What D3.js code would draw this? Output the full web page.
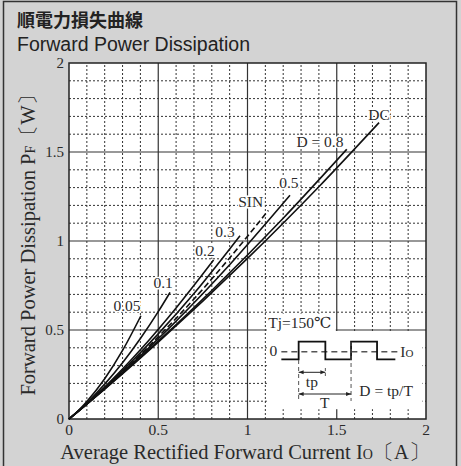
<!DOCTYPE html>
<html><head><meta charset="utf-8">
<script src="https://cdn.jsdelivr.net/npm/d3@7"></script>
<style>
html,body{margin:0;padding:0;background:#d3d3d3;}
svg{display:block;}
</style></head>
<body>
<svg id="c" width="461" height="466"></svg>
<script>
// ---- data ----
const xTicks = [0, 0.5, 1, 1.5, 2];
const yTicks = [0, 0.5, 1, 1.5, 2];
const xTickLabels = ["0", "0.5", "1", "1.5", "2"];
const yTickLabels = ["0", "0.5", "1", "1.5", "2"];
const seriesNames = ["0.05", "0.1", "0.2", "0.3", "SIN", "0.5", "D = 0.8", "DC"];
const s005 = [[0,0],[0.05,0.045],[0.1,0.098],[0.2,0.226],[0.3,0.385],[0.403,0.58]];
const s01  = [[0,0],[0.1,0.09],[0.2,0.196],[0.3,0.316],[0.4,0.452],[0.5,0.603],[0.566,0.711]];
const s02  = [[0,0],[0.1,0.086],[0.2,0.18],[0.4,0.389],[0.6,0.624],[0.81,0.893]];
const s03  = [[0,0],[0.1,0.085],[0.3,0.271],[0.5,0.478],[0.7,0.705],[0.958,1.03]];
const sSIN = [[0,0],[0.1,0.085],[0.3,0.265],[0.5,0.462],[0.7,0.674],[0.9,0.905],[1.117,1.172]];
const s05  = [[0,0],[0.1,0.084],[0.3,0.262],[0.6,0.55],[0.9,0.867],[1.238,1.257]];
const s08  = [[0,0],[0.1,0.084],[0.4,0.346],[0.8,0.722],[1.2,1.128],[1.556,1.515]];
const sDC  = [[0,0],[0.1,0.083],[0.5,0.432],[1.0,0.902],[1.4,1.305],[1.737,1.665]];
const seriesValues = [s005, s01, s02, s03, sSIN, s05, s08, sDC];
// label anchor points (data units) for the curve names
const labelX = [0.325, 0.527, 0.762, 0.874, 1.018, 1.232, 1.406, 1.737];
const labelY = [0.64, 0.766, 0.946, 1.052, 1.221, 1.327, 1.558, 1.708];

// ---- drawing ----
const svg = d3.select("#c");
const x = d3.scaleLinear().domain([0, 2]).range([69, 426]);
const y = d3.scaleLinear().domain([0, 2]).range([419, 63]);
const serif = "'Liberation Serif', 'DejaVu Serif', serif";
const txtCol = "#2a2a2a";

// outer frame
svg.append("rect").attr("x", 3.5).attr("y", 1.5).attr("width", 453).attr("height", 475)
  .attr("fill", "#d3d3d3").attr("stroke", "#333").attr("stroke-width", 1.5);

// titles
svg.append("text").attr("x", 17).attr("y", 27).text("順電力損失曲線")
  .attr("font-family", "'Noto Sans CJK JP', sans-serif").attr("font-weight", "bold")
  .attr("font-size", 18).attr("fill", "#222");
svg.append("text").attr("x", 17).attr("y", 51).text("Forward Power Dissipation")
  .attr("font-family", "'Liberation Sans', Arial, sans-serif")
  .attr("font-size", 19.5).attr("fill", "#222");

// plot background
svg.append("rect").attr("x", x(0)).attr("y", y(2)).attr("width", x(2) - x(0)).attr("height", y(0) - y(2))
  .attr("fill", "#fff");

const minor = d3.range(1, 20).map(i => i / 10).filter(v => Math.abs(v * 2 - Math.round(v * 2)) > 1e-6);
const major = [0.5, 1, 1.5];
const g = svg.append("g");
g.selectAll(".vmin").data(minor).join("line")
  .attr("x1", d => x(d)).attr("x2", d => x(d)).attr("y1", y(0)).attr("y2", y(2))
  .attr("stroke", "#333").attr("stroke-width", 1).attr("stroke-dasharray", "2,2");
g.selectAll(".hmin").data(minor).join("line")
  .attr("y1", d => y(d)).attr("y2", d => y(d)).attr("x1", x(0)).attr("x2", x(2))
  .attr("stroke", "#333").attr("stroke-width", 1).attr("stroke-dasharray", "2,2");
g.selectAll(".vmaj").data(major).join("line")
  .attr("x1", d => x(d)).attr("x2", d => x(d)).attr("y1", y(0)).attr("y2", y(2))
  .attr("stroke", "#333").attr("stroke-width", 1.2);
g.selectAll(".hmaj").data(major).join("line")
  .attr("y1", d => y(d)).attr("y2", d => y(d)).attr("x1", x(0)).attr("x2", x(2))
  .attr("stroke", "#333").attr("stroke-width", 1.2);

// inset white area (hides grid)
svg.append("rect").attr("x", x(1.1) + 1.5).attr("y", y(0.5) + 1)
  .attr("width", x(1.98) - x(1.1) - 1.5).attr("height", y(0.055) - y(0.5) - 1).attr("fill", "#fff");
svg.append("rect").attr("x", x(1.1) + 1.5).attr("y", y(0.6) + 1.5)
  .attr("width", x(1.5) - x(1.1) - 2.5).attr("height", y(0.5) - y(0.6)).attr("fill", "#fff");
svg.append("text").attr("x", x(1.1) + 3).attr("y", y(0.5) - 2.5).text("Tj=150℃")
  .attr("font-family", serif).attr("font-size", 15.5).attr("fill", txtCol);

// plot border
svg.append("rect").attr("x", x(0)).attr("y", y(2)).attr("width", x(2) - x(0)).attr("height", y(0) - y(2))
  .attr("fill", "none").attr("stroke", "#222").attr("stroke-width", 1.5);

// curves
const line = d3.line().x(d => x(d[0])).y(d => y(d[1])).curve(d3.curveMonotoneX);
svg.append("g").selectAll("path").data(seriesValues).join("path")
  .attr("d", line).attr("fill", "none").attr("stroke", "#111").attr("stroke-width", 1.6)
  .attr("stroke-dasharray", (d, i) => seriesNames[i] === "SIN" ? "6,3" : null);

// curve labels with white halo
svg.append("g").selectAll("text").data(seriesNames).join("text")
  .attr("x", (d, i) => x(labelX[i])).attr("y", (d, i) => y(labelY[i]) + 5.5)
  .attr("text-anchor", "middle").text(d => d)
  .attr("font-family", serif).attr("font-size", 15.5).attr("fill", txtCol)
  .attr("stroke", "#fff").attr("stroke-width", 3).attr("paint-order", "stroke");

// tick labels
svg.append("g").selectAll("text").data(xTicks).join("text")
  .attr("x", d => x(d)).attr("y", 435).attr("text-anchor", "middle")
  .text((d, i) => xTickLabels[i]).attr("font-family", serif).attr("font-size", 15.5).attr("fill", txtCol);
svg.append("g").selectAll("text").data(yTicks).join("text")
  .attr("x", 64).attr("y", d => y(d) + 5).attr("text-anchor", "end")
  .text((d, i) => yTickLabels[i]).attr("font-family", serif).attr("font-size", 15).attr("fill", txtCol);

// axis titles
const xl = svg.append("text").attr("x", 245).attr("y", 459).attr("text-anchor", "middle")
  .attr("font-family", serif).attr("font-size", 20.5).attr("fill", txtCol);
xl.append("tspan").text("Average Rectified Forward Current  I");
xl.append("tspan").attr("font-size", 14).text("O");
xl.append("tspan").text("〔A〕");
const yl = svg.append("text").attr("transform", "translate(35,240) rotate(-90)").attr("text-anchor", "middle")
  .attr("font-family", serif).attr("font-size", 20.5).attr("fill", txtCol);
yl.append("tspan").text("Forward Power Dissipation  P");
yl.append("tspan").attr("font-size", 14).text("F");
yl.append("tspan").text("〔W〕");

// inset pulse diagram (annotation), anchored on the scale
const ax = x(1.1), ay = y(0.5);
const ins = svg.append("g").attr("transform", `translate(${ax},${ay})`);
ins.append("text").attr("x", 8).attr("y", 26).text("0").attr("text-anchor", "middle")
  .attr("font-family", serif).attr("font-size", 15.5).attr("fill", txtCol);
ins.append("line").attr("x1", 16).attr("x2", 133).attr("y1", 21.7).attr("y2", 21.7)
  .attr("stroke", "#555").attr("stroke-width", 1.5).attr("stroke-dasharray", "6,4");
const wave = [[16,29.3],[33.3,29.3],[33.3,11.7],[60,11.7],[60,29.3],[85.7,29.3],[85.7,11.7],[111.7,11.7],[111.7,29.3],[130,29.3]];
ins.append("path").attr("d", d3.line()(wave)).attr("fill", "none").attr("stroke", "#111").attr("stroke-width", 1.8);
const io = ins.append("text").attr("x", 135).attr("y", 27)
  .attr("font-family", serif).attr("font-size", 15.5).attr("fill", txtCol);
io.append("tspan").text("I"); io.append("tspan").attr("font-size", 11).text("O");
ins.append("line").attr("x1", 33.3).attr("x2", 33.3).attr("y1", 30).attr("y2", 71)
  .attr("stroke", "#555").attr("stroke-width", 1).attr("stroke-dasharray", "4,3");
ins.append("line").attr("x1", 85.7).attr("x2", 85.7).attr("y1", 12).attr("y2", 71)
  .attr("stroke", "#555").attr("stroke-width", 1).attr("stroke-dasharray", "4,3");
ins.append("line").attr("x1", 60).attr("x2", 60).attr("y1", 38).attr("y2", 47)
  .attr("stroke", "#555").attr("stroke-width", 1).attr("stroke-dasharray", "3,2");
function arrow(x1, x2, yy) {
  ins.append("line").attr("x1", x1).attr("x2", x2).attr("y1", yy).attr("y2", yy).attr("stroke", "#222").attr("stroke-width", 1);
  ins.append("path").attr("d", `M${x1},${yy}l5,-2v4z`).attr("fill", "#222");
  ins.append("path").attr("d", `M${x2},${yy}l-5,-2v4z`).attr("fill", "#222");
}
arrow(33.3, 60, 42.3);
arrow(33.3, 85.7, 64);
ins.append("text").attr("x", 46.5).attr("y", 57).attr("text-anchor", "middle").text("tp")
  .attr("font-family", serif).attr("font-size", 15.5).attr("fill", txtCol);
ins.append("text").attr("x", 59.5).attr("y", 78).attr("text-anchor", "middle").text("T")
  .attr("font-family", serif).attr("font-size", 15.5).attr("fill", txtCol);
ins.append("text").attr("x", 94).attr("y", 66).text("D = tp/T")
  .attr("font-family", serif).attr("font-size", 15.5).attr("fill", txtCol);
</script>
</body></html>
